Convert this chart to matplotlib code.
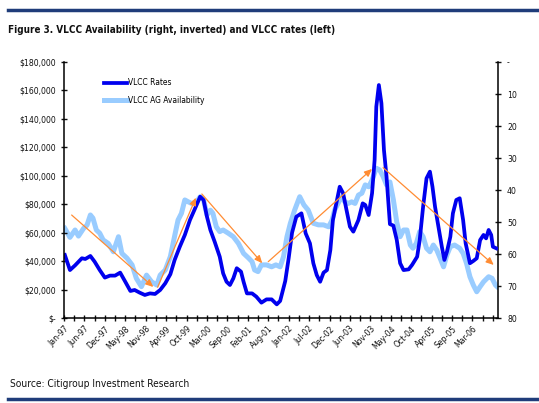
import matplotlib
matplotlib.use("Agg")
import matplotlib.pyplot as plt
from matplotlib.ticker import FuncFormatter, MultipleLocator
from matplotlib.lines import Line2D

# ---------------- data ----------------
rate_weeks = [1, 7, 13, 21, 25, 31, 36, 42, 48, 54, 60, 66, 72, 78, 83, 89, 95, 101, 107, 113,
              119, 125, 130, 136, 142, 148, 154, 160, 164, 168, 172, 177, 183, 187, 191, 195, 199,
              203, 208, 211, 215, 221, 226, 232, 238, 244, 250, 254, 260, 264, 268, 273, 279, 284,
              289, 293, 297, 301, 305, 309, 313, 316, 320, 324, 328, 332, 336, 340, 346, 351, 354,
              358, 362, 365, 367, 370, 373, 376, 379, 383, 387, 391, 395, 399, 405, 409, 415, 418,
              422, 426, 430, 433, 436, 440, 444, 447, 450, 454, 457, 461, 465, 469, 472, 477, 481,
              485, 489, 493, 496, 499, 502, 504, 508]
vlcc_rates = [44.3, 33.7, 37, 42, 41.5, 43.6, 39.6, 33.7, 28.4, 29.8, 29.8, 31.9, 25.5, 19, 19.7,
              17.8, 16.2, 17.3, 16.9, 19.7, 24.4, 30.8, 40.8, 50, 58.4, 68.9, 77, 85.3, 83, 71.2,
              61.9, 53.7, 43.1, 31.4, 25.5, 23.2, 27.9, 35, 32.6, 25.5, 17.3, 17.3, 15, 10.8, 13.1,
              13.1, 9.6, 12, 26, 42, 60, 71.2, 73.6, 59.5, 52.5, 38.5, 30.2, 25.5, 31.9, 33.7, 47.8,
              68.9, 80.6, 92.3, 87.7, 75.9, 64.2, 60.7, 68.9, 80.6, 79.5, 72.4, 87.7, 111, 148.6,
              163.8, 151, 118, 99.4, 66, 65, 55, 38.5, 33.7, 34.2, 37.3, 43.1, 54.8, 78.3, 98.2,
              102.9, 92.3, 78.3, 64.2, 50.1, 40.8, 46.6, 57.2, 73.6, 83, 84.2, 68.9, 52.5, 38.5,
              40.1, 42, 54.8, 58.4, 56, 61.9, 58.4, 50.1, 49]  # $ thousands

avail_weeks = [1, 7, 13, 17, 23, 27, 31, 34, 38, 42, 46, 52, 58, 64, 68, 74, 80, 85, 91, 97, 103,
               109, 113, 119, 125, 130, 134, 138, 142, 146, 150, 156, 160, 164, 168, 172, 175, 179,
               183, 187, 193, 199, 205, 211, 217, 221, 224, 228, 232, 238, 244, 249, 254, 258, 262,
               266, 271, 277, 282, 287, 293, 299, 305, 311, 315, 318, 322, 326, 330, 334, 338, 342,
               346, 350, 354, 358, 362, 367, 371, 375, 379, 383, 387, 391, 395, 399, 403, 407, 410,
               414, 418, 422, 426, 430, 434, 438, 442, 446, 450, 454, 459, 465, 469, 473, 477, 481,
               485, 489, 493, 499, 503, 507, 509]
vlcc_ag_avail = [52, 54.8, 52.5, 54.4, 52, 51, 47.8, 48.8, 52.5, 53.5, 55.6, 56.7, 59.3, 54.6,
                 59.8, 61.3, 63.4, 67.6, 70.2, 66.6, 68.7, 69.7, 66.6, 65, 60.8, 54.4, 49.4, 47.3,
                 43.1, 43.7, 44.2, 43.7, 42.1, 43.1, 47.8, 46.3, 47.3, 51.5, 53, 52.5, 53.5, 54.6,
                 56.7, 59.8, 61.3, 62.4, 65, 65.5, 63.4, 63.4, 64, 63.4, 64, 60.8, 54.6, 50.4, 46.3,
                 42.1, 44.7, 46.3, 50.4, 50.9, 50.9, 51.5, 49.4, 46.3, 44.2, 42.1, 43.7, 44.2, 43.7,
                 44.2, 41.6, 41, 38.4, 39, 36.9, 33.2, 33.75, 35.8, 38.4, 37.5, 43, 50, 54.6, 52.5,
                 52.5, 57.2, 58.2, 56.7, 53, 54.6, 58.2, 59.3, 57.2, 58.75, 61.3, 64, 60.3, 57.7,
                 57.2, 58.2, 59.8, 62.9, 67.1, 69.7, 71.8, 70.2, 68.7, 67.1, 67.6, 69.7, 70.2]

# trend arrows: (start week, start $k, end week, end $k)
trend_arrows = [(9, 72.4, 105, 21.8),
                (110, 21.6, 155, 84.6),
                (162, 87.2, 233, 38.5),
                (240, 39.6, 362, 104.8),
                (375, 105.7, 505, 37.3)]

tick_labels = ["Jan-97", "Jun-97", "Dec-97", "May-98", "Nov-98", "Apr-99", "Oct-99", "Mar-00",
               "Sep-00", "Feb-01", "Aug-01", "Jan-02", "Jul-02", "Dec-02", "Jun-03", "Nov-03",
               "May-04", "Oct-04", "Apr-05", "Sep-05", "Mar-06"]
n_weeks = 510

title = "Figure 3. VLCC Availability (right, inverted) and VLCC rates (left)"
source = "Source: Citigroup Investment Research"

# ---------------- style ----------------
plt.rcParams['font.family'] = ['DejaVu Sans']
plt.rcParams['font.stretch'] = 'condensed'

W, H = 539, 403
fig = plt.figure(figsize=(W / 100, H / 100), dpi=100)
fig.patch.set_facecolor("white")

navy = "#1F3C7A"
fig.add_artist(Line2D([8 / W, 1], [1 - 10 / H] * 2, color=navy, lw=2.5, transform=fig.transFigure))
fig.add_artist(Line2D([8 / W, 1], [1 - 399 / H] * 2, color=navy, lw=2.5, transform=fig.transFigure))
fig.text(8 / W, 1 - 30 / H, title, fontsize=7.1, fontweight='bold', va='center', ha='left',
         color='#111111', fontstretch='condensed')
fig.text(10 / W, 1 - 384 / H, source, fontsize=7.3, va='center', ha='left', color='#111111',
         fontstretch='condensed')

ax = fig.add_axes([64 / W, 1 - 318 / H, 434 / W, 256 / H])
ax2 = ax.twinx()
ax.set_zorder(ax2.get_zorder() + 1)
ax.patch.set_visible(False)

dark_blue = "#0000EE"
light_blue = "#99CCFF"

l2, = ax2.plot(avail_weeks, vlcc_ag_avail, color=light_blue, lw=3.6, label="VLCC AG Availability",
               solid_joinstyle='round')
l1, = ax.plot(rate_weeks, [v * 1000 for v in vlcc_rates], color=dark_blue, lw=2.7, label="VLCC Rates",
              solid_joinstyle='round')

for (w0, v0, w1, v1) in trend_arrows:
    ax.annotate("", xy=(w1, v1 * 1000), xytext=(w0, v0 * 1000),
                arrowprops=dict(arrowstyle="-|>,head_length=0.45,head_width=0.2",
                                color="#FF8C33", lw=0.9, shrinkA=0, shrinkB=0))

ax.set_xlim(0, n_weeks)
ax.set_ylim(0, 180000)
ax2.set_ylim(80, 0)

ax.yaxis.set_major_locator(MultipleLocator(20000))
ax.yaxis.set_major_formatter(FuncFormatter(lambda v, p: "$-" if v == 0 else "${:,.0f}".format(v)))
ax2.yaxis.set_major_locator(MultipleLocator(10))
ax2.yaxis.set_major_formatter(FuncFormatter(lambda v, p: "-" if v == 0 else "{:.0f}".format(v)))

ax.set_xticks(range(0, n_weeks, 12))
ax.set_xticklabels([tick_labels[i // 2] if i % 2 == 0 and i // 2 < len(tick_labels) else ""
                    for i in range(len(range(0, n_weeks, 12)))],
                   rotation=45, ha='right', rotation_mode='anchor')

for a in (ax, ax2):
    for s in a.spines.values():
        s.set_visible(False)
    a.tick_params(labelsize=6.2, colors='#111111', width=1, length=5, direction='inout')
    for lab in a.get_xticklabels() + a.get_yticklabels():
        lab.set_fontstretch('condensed')
ax.spines['left'].set_visible(True)
ax.spines['bottom'].set_visible(True)
ax2.spines['right'].set_visible(True)
for s in (ax.spines['left'], ax.spines['bottom'], ax2.spines['right']):
    s.set_linewidth(1.1)
    s.set_color('black')
ax.tick_params(axis='x', pad=2)
ax.tick_params(axis='y', pad=3)
ax2.tick_params(axis='y', pad=4)

leg = ax.legend(handles=[l1, l2], loc='upper left', bbox_to_anchor=(0.075, 0.965), frameon=False,
                prop=dict(size=6.0, stretch='condensed'), handlelength=2.8, handletextpad=0.1,
                labelspacing=1.0)

fig.savefig("out.png", dpi=100, facecolor="white")
